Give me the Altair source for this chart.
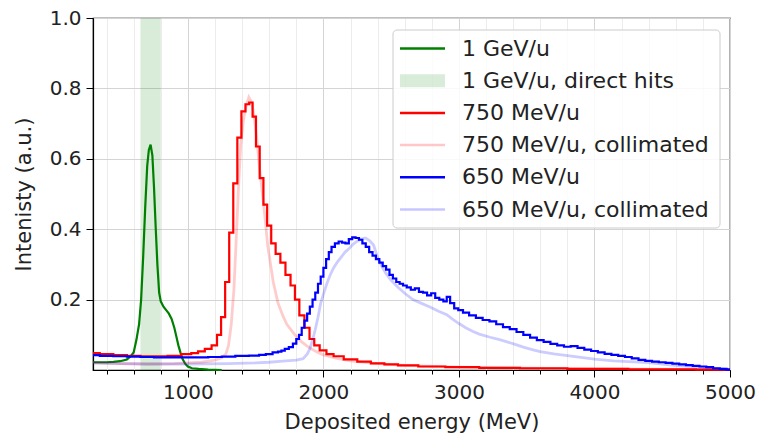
import altair as alt
import pandas as pd

# ---------------- data ----------------
green_E = [300, 350, 400, 450, 500, 550, 580, 600, 620, 640, 655, 670, 685, 700, 712, 725, 738, 750, 762, 775,
           788, 800, 820, 840, 860, 880, 900, 915, 930, 945, 960, 980, 1000, 1030, 1080, 1150, 1250]
green_v = [0.022, 0.022, 0.022, 0.023, 0.025, 0.03, 0.04, 0.05, 0.085, 0.13, 0.2, 0.32, 0.46, 0.58, 0.625, 0.64,
           0.61, 0.52, 0.41, 0.3, 0.22, 0.195, 0.18, 0.17, 0.16, 0.145, 0.12, 0.095, 0.07, 0.05, 0.032, 0.018,
           0.01, 0.005, 0.003, 0.001, 0.0]

red_E = [300, 400, 500, 600, 700, 800, 900, 1000, 1050, 1100, 1150, 1200, 1230, 1260, 1290, 1320, 1350, 1380,
         1410, 1440, 1465, 1490, 1515, 1545, 1570, 1600, 1630, 1665, 1700, 1740, 1775, 1805, 1840, 1880, 1915,
         1950, 1995, 2050, 2100, 2200, 2300, 2400, 2500, 2600, 2800, 3000, 3300, 3600, 4000, 4500, 5000]
red_v = [0.048, 0.045, 0.042, 0.04, 0.039, 0.039, 0.04, 0.045, 0.048, 0.053, 0.06, 0.07, 0.1, 0.15, 0.25, 0.39,
         0.53, 0.66, 0.735, 0.755, 0.76, 0.72, 0.635, 0.545, 0.47, 0.41, 0.36, 0.33, 0.305, 0.27, 0.24, 0.2,
         0.155, 0.12, 0.088, 0.07, 0.056, 0.045, 0.039, 0.03, 0.024, 0.019, 0.016, 0.013, 0.01, 0.008, 0.006,
         0.005, 0.003, 0.002, 0.001]

redc_E = [300, 500, 700, 900, 1000, 1100, 1200, 1250, 1280, 1300, 1320, 1340, 1360, 1375, 1390, 1410, 1430,
          1450, 1470, 1490, 1510, 1530, 1550, 1570, 1590, 1610, 1630, 1665, 1700, 1730, 1770, 1800, 1840, 1880,
          1920, 1960, 2000, 2100, 2200, 2400, 2600, 3000, 3500, 4000, 5000]
redc_v = [0.02, 0.018, 0.017, 0.018, 0.02, 0.022, 0.028, 0.035, 0.045, 0.07, 0.13, 0.23, 0.4, 0.53, 0.64, 0.71,
          0.75, 0.775, 0.76, 0.72, 0.65, 0.57, 0.5, 0.43, 0.35, 0.3, 0.25, 0.19, 0.155, 0.13, 0.11, 0.095, 0.08,
          0.068, 0.058, 0.05, 0.043, 0.033, 0.026, 0.018, 0.013, 0.008, 0.005, 0.003, 0.001]

blue_E = [300, 400, 500, 600, 700, 800, 900, 1000, 1100, 1200, 1300, 1400, 1500, 1550, 1600, 1650, 1680, 1700,
          1730, 1760, 1790, 1810, 1830, 1850, 1870, 1890, 1910, 1930, 1950, 1970, 1990, 2010, 2030, 2050, 2070,
          2100, 2125, 2150, 2175, 2200, 2225, 2250, 2275, 2300, 2325, 2350, 2375, 2400, 2425, 2450, 2475, 2500,
          2525, 2550, 2575, 2600, 2630, 2660, 2690, 2720, 2750, 2780, 2810, 2840, 2870, 2900, 2920, 2950, 2980,
          3010, 3050, 3100, 3150, 3200, 3250, 3300, 3350, 3400, 3450, 3500, 3550, 3600, 3650, 3700, 3750, 3800,
          3850, 3900, 3950, 4000, 4050, 4100, 4150, 4200, 4250, 4300, 4350, 4400, 4450, 4500, 4550, 4600, 4650,
          4700, 4750, 4800, 4850, 4900, 4950, 5000]
blue_v = [0.042, 0.04, 0.039, 0.038, 0.037, 0.036, 0.036, 0.036, 0.036, 0.037, 0.038, 0.04, 0.041, 0.043, 0.045,
          0.05, 0.052, 0.055, 0.06, 0.065, 0.075, 0.088, 0.1, 0.12, 0.14, 0.16, 0.18, 0.2, 0.22, 0.245, 0.265,
          0.29, 0.315, 0.335, 0.35, 0.36, 0.365, 0.362, 0.36, 0.372, 0.377, 0.375, 0.37, 0.36, 0.35, 0.335, 0.325,
          0.315, 0.305, 0.295, 0.285, 0.27, 0.26, 0.25, 0.245, 0.24, 0.235, 0.228, 0.232, 0.222, 0.22, 0.212,
          0.218, 0.205, 0.2, 0.195, 0.208, 0.19, 0.175, 0.17, 0.163, 0.155, 0.148, 0.142, 0.138, 0.13, 0.122,
          0.116, 0.108, 0.1, 0.092, 0.085, 0.08, 0.074, 0.07, 0.066, 0.068, 0.063, 0.058, 0.054, 0.05, 0.046,
          0.043, 0.04, 0.037, 0.033, 0.029, 0.026, 0.024, 0.022, 0.02, 0.018, 0.016, 0.014, 0.012, 0.01, 0.008,
          0.005, 0.003, 0.001]

bluec_E = [300, 500, 700, 1000, 1300, 1500, 1600, 1700, 1800, 1850, 1880, 1900, 1920, 1940, 1960, 1980, 2000,
           2025, 2050, 2075, 2100, 2130, 2160, 2190, 2220, 2250, 2280, 2310, 2340, 2370, 2400, 2430, 2460, 2500,
           2550, 2600, 2660, 2720, 2790, 2850, 2910, 2950, 3000, 3050, 3100, 3150, 3230, 3300, 3355, 3420, 3475,
           3540, 3600, 3700, 3800, 3900, 4000, 4140, 4250, 4400, 4500, 4630, 4750, 4880, 5000]
bluec_v = [0.02, 0.018, 0.017, 0.017, 0.018, 0.02, 0.022, 0.025, 0.028, 0.032, 0.045, 0.06, 0.085, 0.115, 0.15,
           0.19, 0.215, 0.245, 0.27, 0.29, 0.305, 0.32, 0.335, 0.345, 0.358, 0.366, 0.372, 0.375, 0.368, 0.355,
           0.32, 0.295, 0.275, 0.255, 0.235, 0.218, 0.2, 0.19, 0.178, 0.167, 0.157, 0.145, 0.132, 0.12, 0.11,
           0.102, 0.093, 0.086, 0.08, 0.072, 0.065, 0.058, 0.052, 0.046, 0.041, 0.036, 0.031, 0.026, 0.024,
           0.021, 0.017, 0.012, 0.009, 0.005, 0.001]

band_range = [650, 800]

legend_labels = ["1 GeV/u", "1 GeV/u, direct hits", "750 MeV/u", "750 MeV/u, collimated",
                 "650 MeV/u", "650 MeV/u, collimated"]
legend_colors = ["#008000", "#008000", "#ff0000", "#ff0000", "#0000ff", "#0000ff"]
legend_opac = [1.0, 0.15, 1.0, 0.22, 1.0, 0.22]
legend_kind = ["line", "patch", "line", "line", "line", "line"]

x_major = [1000, 2000, 3000, 4000, 5000]
x_ticks = list(range(400, 5001, 200))
y_ticks = [0.2, 0.4, 0.6, 0.8, 1.0]

# ---------------- chart ----------------
W, H = 637, 352
FONT = "DejaVu Sans"

x_scale = alt.Scale(domain=[300, 5000], nice=False, zero=False)
y_scale = alt.Scale(domain=[0, 1], nice=False, zero=False)

major_test = "datum.value % 1000 === 0"
x_axis = alt.Axis(
    values=x_ticks,
    labelExpr="datum.value % 1000 === 0 ? format(datum.value, 'd') : ''",
    title="Deposited energy (MeV)",
    grid=True,
    gridColor={"condition": {"test": major_test, "value": "#d4d4d4"}, "value": "#ececec"},
    gridWidth=1,
    tickSize={"condition": {"test": major_test, "value": 7}, "value": 4},
    tickColor="#000000",
    tickWidth=1,
    domainColor="#000000",
    domainWidth=1.2,
    labelFont=FONT, labelFontSize=20, labelColor="#222222", labelPadding=5,
    labelFlush=False, labelOverlap=False,
    titleFont=FONT, titleFontSize=21, titleFontWeight="normal", titleColor="#222222", titlePadding=9,
)
y_axis = alt.Axis(
    values=y_ticks,
    format=".1f",
    title="Intenisty (a.u.)",
    grid=True,
    gridColor="#d4d4d4",
    gridWidth=1,
    tickSize=7,
    tickColor="#000000",
    tickWidth=1,
    domainColor="#000000",
    domainWidth=1.2,
    labelFont=FONT, labelFontSize=20, labelColor="#222222", labelPadding=5,
    labelFlush=False, labelOverlap=False,
    titleFont=FONT, titleFontSize=21, titleFontWeight="normal", titleColor="#222222", titlePadding=15,
)


def sdf(E, v):
    return pd.DataFrame({"E": E, "v": v})


band_df = pd.DataFrame({"x1": [band_range[0]], "x2": [band_range[1]]})
band = alt.Chart(band_df).mark_rect(color="#008000", opacity=0.15).encode(
    x=alt.X("x1:Q", scale=x_scale, axis=x_axis),
    x2="x2:Q",
    y=alt.value(0),
    y2=alt.value(H),
)


def line(E, v, color, opacity, width, interp):
    return alt.Chart(sdf(E, v)).mark_line(
        interpolate=interp, color=color, opacity=opacity, strokeWidth=width, strokeJoin="miter"
    ).encode(
        x=alt.X("E:Q", scale=x_scale, axis=x_axis),
        y=alt.Y("v:Q", scale=y_scale, axis=y_axis),
    )


l_green = line(green_E, green_v, "#008000", 1.0, 2.2, "linear")
l_red = line(red_E, red_v, "#ff0000", 1.0, 2.2, "step")
l_redc = line(redc_E, redc_v, "#ff0000", 0.2, 2.8, "linear")
l_blue = line(blue_E, blue_v, "#0000ff", 1.0, 2.2, "step")
l_bluec = line(bluec_E, bluec_v, "#0000ff", 0.2, 2.8, "linear")

# ---------------- legend (drawn manually inside the plot) ----------------
leg_df = pd.DataFrame({
    "label": legend_labels,
    "color": legend_colors,
    "op": legend_opac,
    "kind": legend_kind,
    "row": list(range(len(legend_labels))),
})
ROW0, PITCH = 30.5, 32.2
leg_base = alt.Chart(leg_df).transform_calculate(
    yc=f"1 - ({ROW0} + datum.row * {PITCH}) / {H}",
    yt=f"1 - ({ROW0} + datum.row * {PITCH} - 6.5) / {H}",
    yb=f"1 - ({ROW0} + datum.row * {PITCH} + 6.5) / {H}",
)

leg_box = alt.Chart(pd.DataFrame({"a": [0]})).mark_rect(
    fill="white", fillOpacity=0.85, stroke="#cccccc", strokeWidth=1, cornerRadius=4
).encode(
    x=alt.value(300), x2=alt.value(627), y=alt.value(12), y2=alt.value(210)
)

leg_lines = leg_base.transform_filter("datum.kind === 'line'").mark_rule(strokeWidth=2.5).encode(
    x=alt.value(307), x2=alt.value(352),
    y=alt.Y("yc:Q", scale=y_scale, axis=y_axis),
    color=alt.Color("color:N", scale=None, legend=None),
    opacity=alt.Opacity("op:Q", scale=None, legend=None),
)
leg_patch = leg_base.transform_filter("datum.kind === 'patch'").mark_rect().encode(
    x=alt.value(307), x2=alt.value(352),
    y=alt.Y("yt:Q", scale=y_scale, axis=y_axis), y2="yb:Q",
    color=alt.Color("color:N", scale=None, legend=None),
    opacity=alt.Opacity("op:Q", scale=None, legend=None),
)
leg_text = leg_base.mark_text(
    align="left", baseline="middle", font=FONT, fontSize=22, color="#222222"
).encode(
    x=alt.value(369),
    y=alt.Y("yc:Q", scale=y_scale, axis=y_axis),
    text="label:N",
)

chart = alt.layer(
    band, l_green, l_red, l_redc, l_blue, l_bluec, leg_box, leg_patch, leg_lines, leg_text
).properties(
    width=W, height=H,
    padding={"left": 93, "top": 18, "right": 31, "bottom": 66},
    autosize=alt.AutoSizeParams(type="none"),
    background="white",
).configure_view(
    stroke="#000000", strokeWidth=1.2
)

chart.save("out.html", embed_options={"renderer": "svg", "actions": False})
